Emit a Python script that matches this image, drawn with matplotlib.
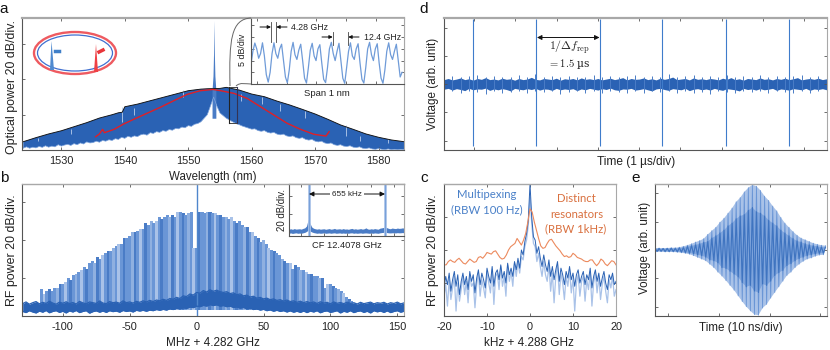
import matplotlib
matplotlib.use("Agg")
import matplotlib.pyplot as plt
from matplotlib.patches import Ellipse, PathPatch, Rectangle
from matplotlib.path import Path

plt.rcParams['font.family'] = ['Liberation Sans', 'DejaVu Sans']
plt.rcParams['mathtext.fontset'] = 'cm'

# ---------- panel a ----------
a_wl = [1524,1526,1528,1530,1532,1534,1536,1538,1539,1539.6,1540,1542,1544,1546,1548,1550,1552,1553,1555,1556,1558,1560,1562,1564,1566,1568,1570,1572,1574,1576,1578,1580,1582,1584]
a_upper = [-75.3,-73.0,-70.9,-69.1,-66.8,-64.5,-61.9,-60,-58.9,-58.6,-55.5,-54,-52.1,-50.2,-48.3,-46.4,-45.5,-45.3,-45.1,-44.5,-46,-48.3,-49.8,-52.3,-54.5,-57,-59.6,-62.6,-65.8,-68.3,-70.9,-72.8,-74.3,-75.3]
a_low_wl = [1524+i*0.5 for i in range(121)]
a_low = [-79,-78.2,-79,-78.4,-78.8,-78,-78.5,-77.6,-78.4,-77.8,-78.2,-77,-77.8,
 -77.2,-76.8,-77.4,-76.4,-77,-76,-76.6,-75.4,-76,-75.8,-75,-75.6,
 -74.6,-75,-74.2,-74.6,-73.6,-74,-72.8,-73.4,-72.2,-72.8,-72,-72.4,
 -71.4,-71,-71.6,-70.2,-70.6,-69.6,-70,-69,-69.4,-68.4,-68.8,-67.8,
 -68,-67,-67.4,-66.2,-66.6,-65.4,-65,-64,-62,-60,
 -55,-50,-55,
 -59,-60.5,-62,-63,-64,-65,-65.6,-66.4,-67,-67.6,-68.2,
 -68,-69,-69.4,-69,-70,-70.4,-70,-71,-71.4,-71,-72,-72.4,
 -72,-73,-73.4,-73,-74,-74.4,-74,-75,-75.4,-75,-76,-76.4,
 -76,-77,-77.4,-77,-77.8,-78,-77.6,-78.4,-78.6,-78.2,-79,-79.2,
 -78.8,-79.4,-79.6,-79.2,-79.6,-79.8,-79.4,-79.8,-79.6,-79.8,-79.6,-79.8]
a_spur_wl = [1526.3,1531.5,1539.5,1541.5,1549.1,1558.3,1561.6,1564.5,1568.4,1574.8,1577,1581.5]
a_spur_top = [-73,-68,-55.5,-56,-46,-48,-50,-54,-58,-66,-72,-74]
a_spur_bot = [-75,-71,-64,-60,-50,-52,-54,-58,-62,-72,-75,-76]
a_peak_wl = [1553.75,1553.9,1553.98,1554.05,1554.12,1554.2,1554.35]
a_peak_db = [-46,-38,-26,-6.5,-26,-38,-46]
a_red_wl = [1535.4,1536,1536.5,1536.8,1538.3,1539.8,1541.4,1543.5,1545.6,1547.7,1549.8,1551.9,1553.9,1555.1,1557.2,1559.3,1561.4,1563.5,1565.6,1567.7,1569.8,1571.7,1572.2]
a_red_db = [-72.5,-70.9,-68.3,-70.2,-68.3,-65.3,-62.6,-59.2,-55.8,-52.1,-48.5,-46.4,-45.7,-46.4,-47.9,-50.8,-55.5,-60.2,-64.9,-68.3,-71.1,-72.1,-69.6]
a_ticks = [1530,1540,1550,1560,1570,1580]

# inset a: 1 nm span, one sample every 1.55 GHz
ia_db = [8.5,14,17.5,15,11,13,17.6,12,4,0.8,5,13,17.6,13,11,15,17,10,3,0.5,6,14,17.8,12.5,10.5,14.5,17,10,2.5,0.4,
         7,14.5,17.4,12,10,15,16.8,9,2,0.6,7,15,17.8,13,10,14,17.4,10,2.5,0.3,7,14,17.6,12,10.5,15,17.2,9,2,0.4,
         7,15,17.8,12.5,10,15,17.2,9,2.5,0.3,6,14,17.6,12.5,10.5,14,17,10,3,5]

# ---------- panel b ----------
b_comb_x = list(range(-116, 118, 2))
b_comb_db = [14,11.5,13,14,13,15,15,17,17,18,20,19,21.5,22,23,24,26,25,28,29,28,31,30,32,33,34,34,36,37,38,38,41,41,42,44,44,45,46,46,49,48,50,49,50,52,51,52,53,52,53,52,55,55,54,53,54,55,36,36,55,55,54,55,55,54,54,53,53,52,52,51,52,50,49,50,48,47,47,44,44,42,41,39,40,38,36,35,34,33,32,30,29,28,28,25,27,26,24,24,23,22,22,21,21,20,20,15,17,17,16,15,14,13,12,10,9,8]
b_band_x = [-130+i*2.5 for i in range(115)]
b_band_hi = [6.5,7.4,6.2,7,7.6,6.4,7.2,6.6,7.8,6.8,6.2,7.3,6.7,
 7.5,6.5,7.1,6.3,7.7,6.9,6.4,7.4,7,6.6,7.9,6.8,
 6.5,7.6,7,7.3,6.7,8,7,7.4,6.8,7.7,7.2,8,
 7.4,8.2,7.6,8.4,8,8.8,8.2,9.2,8.8,9.8,9.2,10.6,
 10.2,11.6,11,12.4,12,13.4,12.6,13.8,13,13.6,12.8,12.4,
 12.8,11.8,12.2,11.2,11.6,10.6,11,10,10.4,9.4,9.8,9,
 9.4,8.6,9,8.2,8.6,7.8,8.4,7.6,8,7.2,7.8,7,
 7.6,6.9,7.4,6.6,7.5,6.8,7.2,6.4,7.4,6.7,7.1,6.5,
 7.3,6.6,7,6.3,7.2,6.5,6.9,7.3,6.4,7,6.7,7.2,
 6.3,7,6.6,7.3,6.4,6.9]
b_band_lo = [2.4,1.8,2.8,2.1,1.6,2.6,2,2.9,1.7,2.4,2.8,1.9,2.5,
 1.6,2.7,2.1,2.9,1.8,2.4,2.8,1.5,2.3,2.7,2,2.6,
 1.9,2.8,2.3,2.6,2,2.9,2.4,2.7,2.1,3,2.6,3,
 2.5,3.1,2.8,3.4,3,3.5,3.1,3.8,3.4,4,3.7,4.3,
 4,4.7,4.4,5.2,4.9,5.6,5.2,6,5.5,5.9,5.2,5.5,
 4.9,5.2,4.5,4.8,4.1,4.5,3.8,4.1,3.4,3.8,3.1,3.5,
 2.8,3.2,2.5,3,2.4,2.8,2.1,2.7,2,2.5,1.9,2.6,
 1.8,2.6,2.1,2.8,1.7,2.4,2.7,1.9,2.3,2.8,1.6,2.5,
 2,2.8,1.8,2.4,2.7,1.9,2.5,1.6,2.8,2.2,2.6,1.9,
 2.7,1.8,2.4,2.8,2,2.5]
b_ticks = [-100,-50,0,50,100,150]

# inset b
ib_x = list(range(0, 1000, 15))
ib_hi = [7.5,8,7.4,8.2,7.6,7.8,8,7.6,8.4,9,11,18.5,14,10,8.6,8,7.6,8,7.5,7.8,8,7.4,7.8,8.2,7.5,7.8,8.4,7.6,7.8,8,7.5,8.2,7.6,7.8,7.4,8,8.4,7.6,8,7.5,7.8,8.2,7.6,8,9,7.8,7.5,8,7.6,8.2,7.8,7.5,8.6,9,9.4,10,9.2,8.4,8,8.8,8.4,8.2,8.8,8.4,8.6,9,8.5]
ib_lo = [3,3.4,2.8,3.2,3.5,3,3.2,3,3.5,4,5,6.5,5.5,4.5,3.8,3.4,3,3.3,3,3.2,3.5,3,3.2,3.4,3,3.3,3.5,3,3.2,3.4,3,3.3,3,3.2,3,3.4,3.5,3,3.3,3,3.2,3.4,3,3.3,3.4,3.2,3,3.3,3,3.4,3.2,3,3.5,3.8,4,4.2,3.8,3.5,3.4,3.6,3.5,3.4,3.7,3.5,3.6,3.8,3.5]
ib_spikes = [169, 824]

# ---------- panel c ----------
c_or_x = [v/2 for v in range(-40, 41)]
c_or = [31,31,33,34,33,32.5,34,35,33.5,32,31.5,33,34.5,33.5,32.5,33,35.5,36,35,36.5,38.5,38,37.5,39,39.5,37.5,35.5,34.5,35,37,40,42,43,44,47,45,43,46,50,57,65,63,57,52,47,42.5,41,41.5,44,46,46.5,44.5,42.5,41,39.5,37.5,36,36.5,35.5,36,38,37,35.5,35,34.5,33.5,33,33,34,34,32,30.5,32,34.5,33.5,31.5,30.5,32,33.5,33,31]
c_bl_dark = [17,24,19,26,15,22,27,18,25,13,21,26,19,24,16,27,21,25,14,23,
 28,19,26,22,17,29,24,20,30,18,26,28,22,31,23,27,20,32,25,29,
 24,33,28,35,29,40,37,45,50,58,80,60,48,46,38,42,35,30,37,31,
 27,34,24,30,22,28,33,21,29,25,19,27,23,30,22,26,18,25,28,20,
 24,27,19,25,22,29,17,24,28,21,26,18,23,27,20,16,25,22,26,19,21]
c_bl_light = [12,19,6,22,10,17,24,3,20,9,16,24,13,21,8,25,18,20,5,19,
 26,12,22,17,11,27,20,14,28,7,24,26,16,30,18,24,12,31,21,27,
 18,32,24,33,26,36,34,42,46,55,72,56,44,42,33,38,30,24,33,25,
 21,31,15,26,8,24,31,13,26,20,10,24,18,28,14,23,3,20,25,12,
 21,24,9,22,16,27,6,20,26,14,24,10,19,24,15,8,22,17,24,12,16]
c_ticks = [-20,-10,0,10,20]

# ---------- panel d ----------
d_spikes = [0.70,2.22,3.74,5.25,6.77,8.29]
d_hi = [.16,.2,.15,.18,.22,.16,.19,.14,.2,.17,.23,.16,.18,.15,.21,.17,.19,.14,.2,.16,.18,.24,.17,.15,.2,.18,.16,.21,.14,.19,.17,.2,.15,.22,.17,.19,.16,.2,.15,.18,.21,.16,.19,.23,.15,.2,.17,.18,.22,.16,.19,.15,.21,.17,.2,.25,.16,.18,.2,.15,.22,.17,.19,.16,.2,.18,.15,.21,.17,.23,.16,.19,.14,.2,.18,.16,.22,.17,.19,.15,.2,.17,.21,.16,.19,.23,.15,.18,.2,.17,.21,.16,.19]
d_lo = [-.18,-.15,-.21,-.16,-.19,-.23,-.15,-.2,-.17,-.18,-.14,-.22,-.17,-.2,-.16,-.19,-.24,-.15,-.18,-.2,-.16,-.19,-.15,-.21,-.17,-.18,-.22,-.15,-.2,-.17,-.19,-.16,-.23,-.17,-.2,-.15,-.18,-.21,-.16,-.19,-.14,-.2,-.22,-.17,-.18,-.15,-.21,-.19,-.16,-.2,-.24,-.17,-.15,-.19,-.22,-.16,-.18,-.2,-.15,-.23,-.18,-.16,-.2,-.17,-.21,-.15,-.19,-.22,-.16,-.18,-.2,-.24,-.15,-.19,-.17,-.21,-.16,-.2,-.18,-.15,-.22,-.17,-.19,-.21,-.16,-.18,-.2,-.15,-.22,-.17,-.19,-.16,-.2]
d_peak_hi = [.26,.3,.24,.28,.33,.25,.29,.24,.27,.31,.25,.36,.26,.28,.24,.3,.27,.25,.32,.26,.3,.24,.29,.34,.25,.3,.27,.36,.24,.28,.31,.25,.3,.27,.33,.24,.29,.26,.31,.25,.3,.26,.28,.33,.25,.3,.27]
d_peak_lo = [-.28,-.24,-.31,-.26,-.29,-.34,-.25,-.3,-.27,-.24,-.32,-.26,-.29,-.25,-.35,-.27,-.24,-.3,-.26,-.31,-.25,-.28,-.33,-.26,-.3,-.24,-.29,-.26,-.33,-.25,-.3,-.27,-.35,-.24,-.28,-.31,-.25,-.29,-.26,-.33,-.25,-.28,-.3,-.26,-.32,-.25,-.28]

# ---------- panel e ----------
e_light = [.06,-.06,.07,-.06,.06,-.07,.07,-.07,.08,-.07,
 .08,-.08,.1,-.1,.13,-.12,.17,-.15,.22,-.2,
 .28,-.26,.33,-.32,.4,-.38,.55,-.5,.68,-.62,
 .8,-.78,.98,-.92,1.12,-1.08,1.3,-1.25,1.48,-1.42,
 1.7,-1.62,1.85,-1.82,2.05,-2.0,2.2,-2.15,2.3,-2.28,
 2.25,-2.3,2.1,-2.05,1.9,-1.92,1.75,-1.7,1.55,-1.5,
 1.38,-1.3,1.15,-1.1,.95,-.9,.8,-.78,.65,-.62,
 .52,-.5,.42,-.4,.36,-.32,.3,-.28,.24,-.22,
 .2,-.18,.17,-.17,.15]
e_dark = [.05,-.05,.05,-.04,.05,-.05,.05,-.05,.06,-.05,
 .05,-.06,.07,-.07,.08,-.09,.12,-.11,.15,-.13,
 .18,-.17,.22,-.2,.27,-.25,.3,-.35,.42,-.38,
 .5,-.45,.6,-.62,.7,-.65,.85,-.75,.95,-.85,
 1.1,-.95,1.2,-1.15,1.25,-1.3,1.4,-1.25,1.5,-1.45,
 1.35,-1.5,1.3,-1.2,1.2,-1.25,1.05,-1.1,.95,-.9,
 .85,-.8,.7,-.72,.6,-.55,.5,-.48,.4,-.38,
 .32,-.3,.28,-.25,.22,-.2,.18,-.17,.15,-.14,
 .13,-.12,.1,-.11,.1]

BLUE = '#2a62b4'
MID = '#6a96d6'
LIGHT = '#a9c2e8'
DARKM = '#4a7cc6'
FRAME = '#555555'
TOPG = '#a8a8a8'
W, H = 830, 350
fig = plt.figure(figsize=(W/100, H/100), dpi=100)

def box(l, t, r, b, z=1):
    return fig.add_axes([l/W, 1-b/H, (r-l)/W, (b-t)/H], zorder=z)

def style(ax, topw=1.0, ticklen=2.5, fs=7.8, pad=4):
    for s, c, lw in [('left', FRAME, 0.8), ('bottom', FRAME, 0.8), ('top', TOPG, topw), ('right', TOPG, 0.8)]:
        ax.spines[s].set_color(c); ax.spines[s].set_linewidth(lw)
    ax.tick_params(direction='in', length=ticklen, width=0.6, color=FRAME, top=True, right=True,
                   labelsize=fs, pad=pad, labelcolor='#222222')
    ax.set_yticklabels([])

def label(x, y, s, **k):
    k.setdefault('color', '#222222'); k.setdefault('fontsize', 8.5)
    ov.text(x, y, s, ha=k.pop('ha', 'center'), va=k.pop('va', 'center'), **k)

ov = fig.add_axes([0, 0, 1, 1], zorder=10)
ov.set_xlim(0, W); ov.set_ylim(H, 0); ov.axis('off'); ov.patch.set_alpha(0)

# --- a ---
ax = box(22, 18, 404, 150)
ax.set_xlim(1523.8, 1584); ax.set_ylim(-80, -5.2)
ax.fill(a_wl + a_low_wl[::-1], a_upper + a_low[::-1], color=BLUE, lw=0)
ax.plot(a_low_wl, a_low, color='#7ea4dc', lw=0.5)
ax.fill_between(a_peak_wl, -62, a_peak_db, color=DARKM, lw=0)
ax.vlines(a_spur_wl, a_spur_bot, a_spur_top, color='#b9cdec', lw=0.6)
ax.plot(a_wl, a_upper, color='#111111', lw=0.65)
ax.plot(a_red_wl, a_red_db, color='#e01f26', lw=1.0)
ax.set_xticks(a_ticks); ax.set_yticks([-60, -40, -20])
style(ax, topw=1.6)
ax.set_xticklabels([str(t) for t in a_ticks])

ia = box(251, 18, 404, 84, z=3)
ia.set_xlim(0, 124); ia.set_ylim(0, 28.2)
ia.plot([i*1.55 for i in range(len(ia_db))], ia_db, color='#6f9bd8', lw=0.9)
ia.set_xticks(range(5, 124, 24)); ia.set_yticks([5, 10, 15, 20, 25])
style(ia, topw=1.2)
ia.set_xticklabels([])

ov.add_patch(Rectangle((229, 87), 7.5, 36, fill=False, ec='#444444', lw=0.7))
ov.plot([229, 229], [87, 123], color='#222222', lw=0.8)
ov.plot([236.5, 236.5], [87, 123], color='#333355', lw=0.8)
ov.add_patch(PathPatch(Path([(230, 86), (229, 40), (231, 19), (251, 18)],
                            [Path.MOVETO, Path.CURVE4, Path.CURVE4, Path.CURVE4]),
                       fill=False, ec='#666666', lw=0.7))
ov.add_patch(PathPatch(Path([(236, 86), (240, 82), (246, 84), (251, 84)],
                            [Path.MOVETO, Path.CURVE4, Path.CURVE4, Path.CURVE4]),
                       fill=False, ec='#666666', lw=0.7))
ov.add_patch(Ellipse((75, 53), 82, 42, fill=False, ec='#ee5a60', lw=1.7))
ov.add_patch(Ellipse((75, 53), 75, 36, fill=False, ec='#3f6fd0', lw=0.9))
ov.fill([50, 51.5, 54], [70, 41, 70], color='#4f8ad0', lw=0)
ov.fill([94, 96, 98], [72, 44, 72], color='#ef4045', lw=0)
ov.plot([55, 59], [51, 51], color='#3f7fc8', lw=2.5)
ov.plot([99, 103], [52, 50], color='#e8353a', lw=2.5)

for xx in (271, 276.3):
    ov.plot([xx, xx], [22, 42], color='#444444', lw=0.6)
for xx in (332.7, 348.3):
    ov.plot([xx, xx], [32, 45], color='#444444', lw=0.6)
def arr(x0, y0, x1, y1, ms=5, lw=0.7):
    ov.annotate('', xy=(x1, y1), xytext=(x0, y0),
                arrowprops=dict(arrowstyle='-|>', color='#111111', lw=lw, mutation_scale=ms, shrinkA=0, shrinkB=0))
arr(260, 27, 271, 27); arr(287, 27, 276.3, 27)
arr(322, 37, 332.7, 37); arr(359, 37, 348.3, 37)
label(291, 27, '4.28 GHz', ha='left', fontsize=6.3)
label(363.5, 37, '12.4 GHz', ha='left', fontsize=6.3)
label(242, 50, '5 dB/div', rotation=90, fontsize=6.4)
label(327, 94, 'Span 1 nm', fontsize=6.8)

# --- b ---
ax = box(22, 184, 404, 316)
ax.set_xlim(-130.5, 155); ax.set_ylim(0, 69.5)
comb_colors = [MID, LIGHT, MID, DARKM, MID, MID, '#8fb0e0', DARKM, MID, LIGHT, MID, DARKM, MID, '#8fb0e0']
ax.bar(b_comb_x, [v-3 for v in b_comb_db], bottom=3, width=2.3,
       color=[comb_colors[i % len(comb_colors)] for i in range(len(b_comb_x))], lw=0)
ax.vlines(0, 0, 69.5, color='#4f86cc', lw=1.0)
ax.fill_between(b_band_x, b_band_lo, b_band_hi, color=BLUE, lw=0)
ax.plot(b_band_x, b_band_hi, color=BLUE, lw=0.9)
ax.plot(b_band_x, b_band_lo, color=BLUE, lw=0.9)
ax.set_xticks(b_ticks); ax.set_yticks([20.2, 40.2, 60.2])
style(ax, topw=1.0)
ax.set_xticklabels([str(t) for t in b_ticks])

ib = box(289, 184, 404, 236, z=3)
ib.set_xlim(0, 987); ib.set_ylim(0, 57.5)
ib.vlines(ib_spikes, 0, 57.5, color=LIGHT, lw=2.0)
ib.vlines(ib_spikes, 0, 57.5, color='#6f9bd8', lw=0.6)
ib.fill_between(ib_x, ib_lo, ib_hi, color=DARKM, lw=0)
ib.set_xticks([100, 300, 500, 700, 900]); ib.set_yticks([24, 44])
style(ib)
ib.set_xticklabels([])
arr(347, 194, 309, 194, ms=7); arr(347, 194, 385, 194, ms=7)
ov.text(347, 194, '655 kHz', ha='center', va='center', fontsize=5.9, color='#222222',
        bbox=dict(fc='white', ec='none', pad=1.8))
label(282, 210, '20 dB/div.', rotation=90, fontsize=6.9)
label(347, 246, 'CF 12.4078 GHz', fontsize=6.7)

# --- c ---
ax = box(444, 184, 616, 316)
ax.set_xlim(-20, 20); ax.set_ylim(0, 80)
cx = [i*0.4-20 for i in range(len(c_bl_dark))]
ax.plot(cx, c_bl_light, color=LIGHT, lw=0.9)
ax.plot(cx, c_bl_dark, color=BLUE, lw=0.7)
ax.plot(c_or_x, c_or, color='#ec8a5e', lw=0.8)
ax.set_xticks(c_ticks); ax.set_yticks([20, 40, 60])
style(ax)
ax.set_xticklabels([str(t) for t in c_ticks])
for (x, y, s, c) in [(486.7, 195, 'Multipexing', '#4a80c8'), (486.7, 210, '(RBW 100 Hz)', '#4a80c8'),
                     (576.7, 199, 'Distinct', '#d9703f'), (576.7, 214, 'resonators', '#d9703f'),
                     (575.7, 229, '(RBW 1kHz)', '#d9703f')]:
    ov.text(x, y, s, ha='center', va='center', color=c, fontsize=8.2, family='Lato')

# --- d ---
ax = box(444, 18, 827, 150)
ax.set_xlim(0, 9.21); ax.set_ylim(-2.33, 2.34)
ax.vlines(d_spikes, -2.2, 2.3, color='#3f7ccb', lw=0.8)
dx = [i*0.1 for i in range(len(d_hi))]
dpx = [i*0.2 for i in range(len(d_peak_hi))]
ax.vlines(dpx, d_peak_lo, d_peak_hi, color=DARKM, lw=0.7)
ax.fill_between(dx, d_lo, d_hi, color=BLUE, lw=0)
ax.set_xticks([0.72+0.993*k for k in range(9)]); ax.set_yticks([-2, -1, 0, 1, 2])
style(ax, topw=1.6)
ax.set_xticklabels([])
arr(568, 37.5, 537, 37.5, ms=7); arr(568, 37.5, 599.5, 37.5, ms=7)
label(570, 47, r'$1/\Delta f_{\mathrm{rep}}$', fontsize=8.6)
label(569, 64, r'$= 1.5$ µs', fontsize=7.6, family='DejaVu Serif')

# --- e ---
ax = box(655, 184, 827, 316)
ax.set_xlim(0, 33.9); ax.set_ylim(-2.33, 2.33)
ex = [i*0.4 for i in range(len(e_light))]
ax.fill(ex[::2] + ex[1::2][::-1], e_light[::2] + e_light[1::2][::-1], color=LIGHT, lw=0)
ax.fill(ex[::2] + ex[1::2][::-1], e_dark[::2] + e_dark[1::2][::-1], color='#7ea4dc', lw=0)
ax.plot(ex, e_light, color=MID, lw=0.6)
ax.plot(ex, e_dark, color='#3f74c0', lw=0.8)
ax.set_xticks([2.6, 12.6, 22.6, 32.6]); ax.set_yticks([-2, -1, 0, 1, 2])
style(ax)
ax.set_xticklabels([])

# --- labels ---
label(213, 176.7, 'Wavelength (nm)', fontsize=8.3)
label(12.5, 87, 'Optical power 20 dB/div.', rotation=90, fontsize=8.9)
label(213, 342.5, 'MHz + 4.282 GHz', fontsize=8.5)
label(12.5, 250, 'RF power 20 dB/div.', rotation=90, fontsize=8.9)
label(529, 342.5, 'kHz + 4.288 GHz', fontsize=8.5)
label(433, 250, 'RF power 20 dB/div.', rotation=90, fontsize=8.9)
label(636, 162.5, 'Time (1 µs/div)', fontsize=8.6)
label(433, 84, 'Voltage (arb. unit)', rotation=90, fontsize=8.4)
label(741, 328, 'Time (10 ns/div)', fontsize=8.4)
label(645, 248, 'Voltage (arb. unit)', rotation=90, fontsize=8.4)
for (x, y, s) in [(4, 9, 'a'), (4, 178.5, 'b'), (424, 178.5, 'c'), (424, 9, 'd'), (636, 178.5, 'e')]:
    label(x, y, s, fontsize=11, color='#111111')

fig.savefig('out.png', dpi=100)
